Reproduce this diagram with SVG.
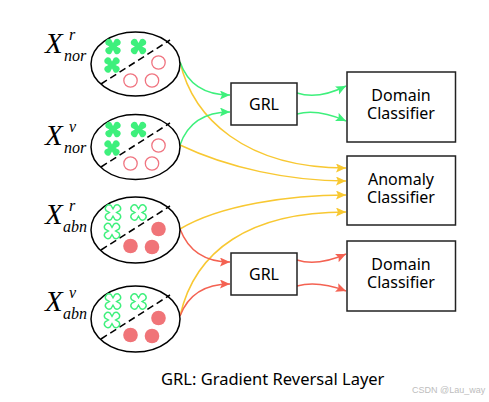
<svg xmlns="http://www.w3.org/2000/svg" width="489" height="402" viewBox="0 0 489 402">
<style>
.ell{fill:#fff;stroke:#000;stroke-width:1.5}
.dash{stroke:#000;stroke-width:1.5;stroke-dasharray:7,4;fill:none}
.box{fill:#fff;stroke:#222;stroke-width:1.5}
.t{font-family:"Noto Sans","Open Sans",sans-serif;font-size:16px;fill:#000;text-anchor:middle}
.X{font-family:"Liberation Serif","Times New Roman",serif;font-style:italic;font-size:29px;fill:#000}
.s{font-family:"Liberation Serif","Times New Roman",serif;font-style:italic;font-size:16px;fill:#000}
.g{fill:none;stroke:#3ef07c;stroke-width:1.5}
.y{fill:none;stroke:#f8c832;stroke-width:1.5}
.r{fill:none;stroke:#f46252;stroke-width:1.5}
.cf{fill:#3ef07c}
.co{fill:#fff;stroke:#3ef07c;stroke-width:1.4}
.po{fill:none;stroke:#f07480;stroke-width:1.3}
.pf{fill:#f07478}
</style>
<defs>
<path id="x" d="M0,-3.6 L1.84,-6.88 A3.6,3.6 0 0 1 6.88,-1.84 L3.6,0 L6.88,1.84 A3.6,3.6 0 0 1 1.84,6.88 L0,3.6 L-1.84,6.88 A3.6,3.6 0 0 1 -6.88,1.84 L-3.6,0 L-6.88,-1.84 A3.6,3.6 0 0 1 -1.84,-6.88 Z"/>
<marker id="ag" markerUnits="userSpaceOnUse" markerWidth="11" markerHeight="10" refX="10" refY="4.5" orient="auto"><path d="M0,0 L10,4.5 L0,9 L2,4.5 Z" fill="#3ef07c"/></marker>
<marker id="ay" markerUnits="userSpaceOnUse" markerWidth="11" markerHeight="10" refX="10" refY="4.5" orient="auto"><path d="M0,0 L10,4.5 L0,9 L2,4.5 Z" fill="#f8c832"/></marker>
<marker id="ar" markerUnits="userSpaceOnUse" markerWidth="11" markerHeight="10" refX="10" refY="4.5" orient="auto"><path d="M0,0 L10,4.5 L0,9 L2,4.5 Z" fill="#f46252"/></marker>
</defs>
<rect width="489" height="402" fill="#fff"/>

<g id="connectors">
<path class="y" d="M180,62 C193,118 245,168 346,168" marker-end="url(#ay)"/>
<path class="y" d="M180,145 C228,168 290,181 346,181" marker-end="url(#ay)"/>
<path class="y" d="M180,229 C220,205 290,195 346,195" marker-end="url(#ay)"/>
<path class="y" d="M180,316 C195,250 250,212 346,212" marker-end="url(#ay)"/>
<path class="g" d="M180,62 C188,85 205,95 230,95" marker-end="url(#ag)"/>
<path class="g" d="M180,145 C188,122 205,112 230,112" marker-end="url(#ag)"/>
<path class="r" d="M180,229 C188,250 205,262 230,262" marker-end="url(#ar)"/>
<path class="r" d="M180,316 C188,295 205,284 230,284" marker-end="url(#ar)"/>
<path class="g" d="M297,93 C312,98 330,94 346,86" marker-end="url(#ag)"/>
<path class="g" d="M297,114 C312,110 330,114 346,121" marker-end="url(#ag)"/>
<path class="r" d="M297,260 C312,265 330,261 346,254" marker-end="url(#ar)"/>
<path class="r" d="M297,286 C312,282 330,285 346,291" marker-end="url(#ar)"/>
</g>

<g id="set-nor-r">
<ellipse class="ell" cx="135.5" cy="64" rx="44.5" ry="32"/>
<line class="dash" x1="101" y1="84" x2="170" y2="40"/>
<use href="#x" x="113" y="46.5" class="cf"/>
<use href="#x" x="138.5" y="46.5" class="cf"/>
<use href="#x" x="112" y="65" class="cf"/>
<circle class="po" cx="158.5" cy="62.5" r="6.7"/>
<circle class="po" cx="130.5" cy="80.5" r="6.7"/>
<circle class="po" cx="152" cy="80.5" r="6.7"/>
<text class="X" x="45" y="53">X</text><text class="s" x="69" y="40">r</text><text class="s" x="64" y="61">nor</text>
</g>

<g id="set-nor-v">
<ellipse class="ell" cx="135.5" cy="147" rx="44.5" ry="32.5"/>
<line class="dash" x1="101" y1="167" x2="170" y2="123"/>
<use href="#x" x="113" y="129.5" class="cf"/>
<use href="#x" x="138.5" y="129.5" class="cf"/>
<use href="#x" x="112" y="148" class="cf"/>
<circle class="po" cx="158.5" cy="145.5" r="6.7"/>
<circle class="po" cx="130.5" cy="163.5" r="6.7"/>
<circle class="po" cx="152" cy="163.5" r="6.7"/>
<text class="X" x="45" y="145">X</text><text class="s" x="69" y="132">v</text><text class="s" x="64" y="153">nor</text>
</g>

<g id="set-abn-r">
<ellipse class="ell" cx="135.5" cy="230" rx="44.5" ry="33"/>
<line class="dash" x1="101" y1="250" x2="170" y2="206"/>
<use href="#x" x="113" y="212.5" class="co"/>
<use href="#x" x="138.5" y="212.5" class="co"/>
<use href="#x" x="112" y="231" class="co"/>
<circle class="pf" cx="158.5" cy="229" r="7.3"/>
<circle class="pf" cx="130.5" cy="246" r="7.3"/>
<circle class="pf" cx="152" cy="247" r="7.3"/>
<text class="X" x="45" y="224">X</text><text class="s" x="69" y="211">r</text><text class="s" x="63" y="232">abn</text>
</g>

<g id="set-abn-v">
<ellipse class="ell" cx="135.5" cy="319" rx="44.5" ry="33"/>
<line class="dash" x1="101" y1="339" x2="170" y2="295"/>
<use href="#x" x="113" y="301.5" class="co"/>
<use href="#x" x="138.5" y="301.5" class="co"/>
<use href="#x" x="112" y="320" class="co"/>
<circle class="pf" cx="158.5" cy="318" r="7.3"/>
<circle class="pf" cx="130.5" cy="335" r="7.3"/>
<circle class="pf" cx="152" cy="336" r="7.3"/>
<text class="X" x="45" y="311">X</text><text class="s" x="69" y="298">v</text><text class="s" x="63" y="319">abn</text>
</g>

<g id="grl1"><rect class="box" x="231" y="83" width="66" height="42"/><text class="t" x="264" y="110">GRL</text></g>
<g id="grl2"><rect class="box" x="231" y="253" width="66" height="42"/><text class="t" x="264" y="280">GRL</text></g>
<g id="domain1"><rect class="box" x="347" y="72" width="108.5" height="70"/><text class="t" x="401" y="100.7">Domain</text><text class="t" x="401" y="119.3">Classifier</text></g>
<g id="anomaly"><rect class="box" x="347" y="156" width="108.5" height="69"/><text class="t" x="401" y="184.5">Anomaly</text><text class="t" x="401" y="203">Classifier</text></g>
<g id="domain2"><rect class="box" x="347" y="241" width="108.5" height="70"/><text class="t" x="401" y="269.7">Domain</text><text class="t" x="401" y="288.3">Classifier</text></g>

<text x="161" y="384.5" style="font-family:'Noto Sans','Open Sans',sans-serif;font-size:16.5px;fill:#000">GRL: Gradient Reversal Layer</text>
<text x="412" y="393" style="font-family:'Liberation Sans',Arial,sans-serif;font-size:9px;fill:#bdbdbd">CSDN @Lau_way</text>
</svg>
